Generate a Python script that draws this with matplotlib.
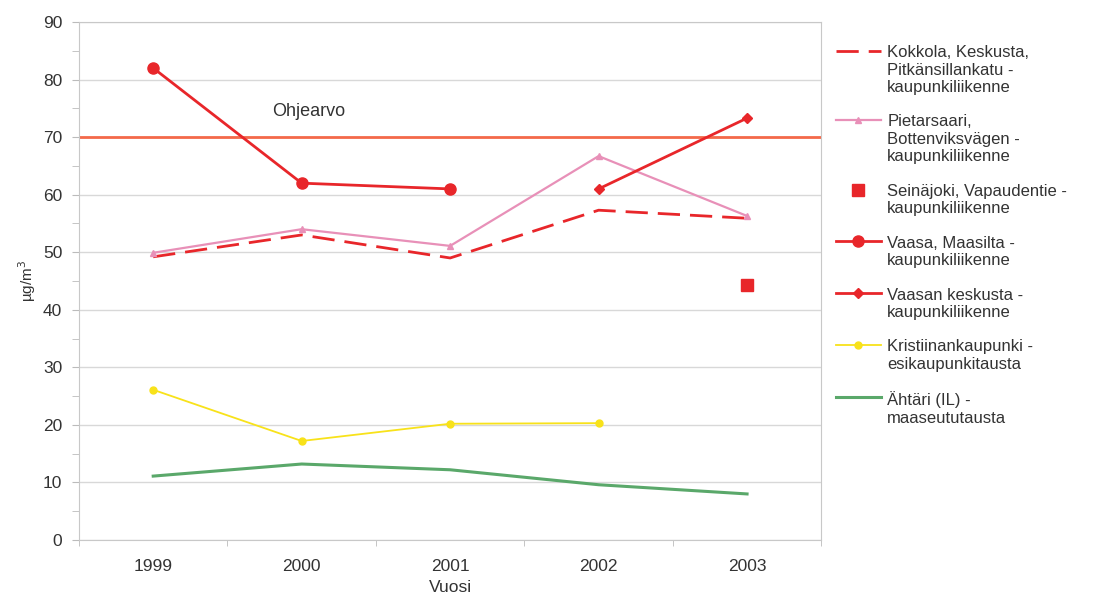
import matplotlib.pyplot as plt
import numpy as np

plt.rcParams['font.family'] = ['Liberation Sans', 'DejaVu Sans']

years = ["1999", "2000", "2001", "2002", "2003"]

kokkola = [49.2, 53.0, 49.0, 57.3, 55.9]
pietarsaari = [49.9, 54.0, 51.1, 66.7, 56.3]
seinajoki = [np.nan, np.nan, np.nan, np.nan, 44.3]
vaasa_maasilta = [82.0, 62.0, 61.0, np.nan, np.nan]
vaasan_keskusta = [np.nan, np.nan, np.nan, 61.0, 73.3]
kristiinankaupunki = [26.1, 17.2, 20.2, 20.3, np.nan]
ahtari = [11.1, 13.2, 12.2, 9.6, 8.0]
ohjearvo = 70

labels = [
    "Kokkola, Keskusta,\nPitkänsillankatu -\nkaupunkiliikenne",
    "Pietarsaari,\nBottenviksvägen -\nkaupunkiliikenne",
    "Seinäjoki, Vapaudentie -\nkaupunkiliikenne",
    "Vaasa, Maasilta -\nkaupunkiliikenne",
    "Vaasan keskusta -\nkaupunkiliikenne",
    "Kristiinankaupunki -\nesikaupunkitausta",
    "Ähtäri (IL) -\nmaaseututausta",
]

fig = plt.figure(figsize=(11.03, 6.03), dpi=100)
ax = fig.add_axes([0.0716, 0.1045, 0.673, 0.859])

x = np.arange(len(years))
red = "#e8262a"
grey_txt = "#333333"

ax.axhline(ohjearvo, color="#f4694a", lw=2, zorder=2)
ax.text(1.05, 74.4, "Ohjearvo", ha="center", va="center", fontsize=13, color=grey_txt)

ax.plot(x, kokkola, color=red, lw=2, ls=(0, (8, 3.6)), label=labels[0], zorder=3)
ax.plot(x, pietarsaari, color="#e890b8", lw=1.6, marker="^", ms=5, label=labels[1], zorder=3)
ax.plot(x, seinajoki, color=red, ls="none", marker="s", ms=9, label=labels[2], zorder=4)
ax.plot(x, vaasa_maasilta, color=red, lw=2, marker="o", ms=8, label=labels[3], zorder=4)
ax.plot(x, vaasan_keskusta, color=red, lw=2, marker="D", ms=5, label=labels[4], zorder=4)
ax.plot(x, kristiinankaupunki, color="#f8e21a", lw=1.3, marker="o", ms=5, label=labels[5], zorder=3)
ax.plot(x, ahtari, color="#5aa86a", lw=2.2, label=labels[6], zorder=3)

ax.set_xlim(-0.5, len(years) - 0.5)
ax.set_ylim(0, 90)
ax.set_yticks(np.arange(0, 91, 10))
ax.set_yticks(np.arange(0, 91, 5), minor=True)
ax.set_xticks(x)
ax.set_xticklabels(years)
ax.set_xticks(np.arange(-0.5, len(years), 1), minor=True)
ax.tick_params(axis="x", which="major", length=0, pad=14)
ax.tick_params(axis="x", which="minor", length=4, color="#bbbbbb")
ax.tick_params(axis="y", which="both", length=5, color="#bbbbbb", pad=7)
ax.tick_params(labelsize=12.5, labelcolor=grey_txt)
ax.grid(axis="y", which="major", color="#d8d8d8", lw=1, zorder=0)
for s in ax.spines.values():
    s.set_color("#c8c8c8")

ax.set_ylabel("µg/m$^3$", fontsize=11, color=grey_txt)
ax.yaxis.set_label_coords(-0.055, 0.5)
ax.set_xlabel("Vuosi", fontsize=12.5, color=grey_txt, labelpad=4)

leg = fig.legend(loc="upper left", bbox_to_anchor=(0.744, 0.95), frameon=False,
                 fontsize=12, handlelength=2.7, labelspacing=1.17, handletextpad=0.4,
                 labelcolor=grey_txt)
# put each legend symbol next to the first line of its label, like Excel does
for col in leg._legend_handle_box.get_children():
    for row in col.get_children():
        row.align = "top"

fig.savefig("out.png", dpi=100)
